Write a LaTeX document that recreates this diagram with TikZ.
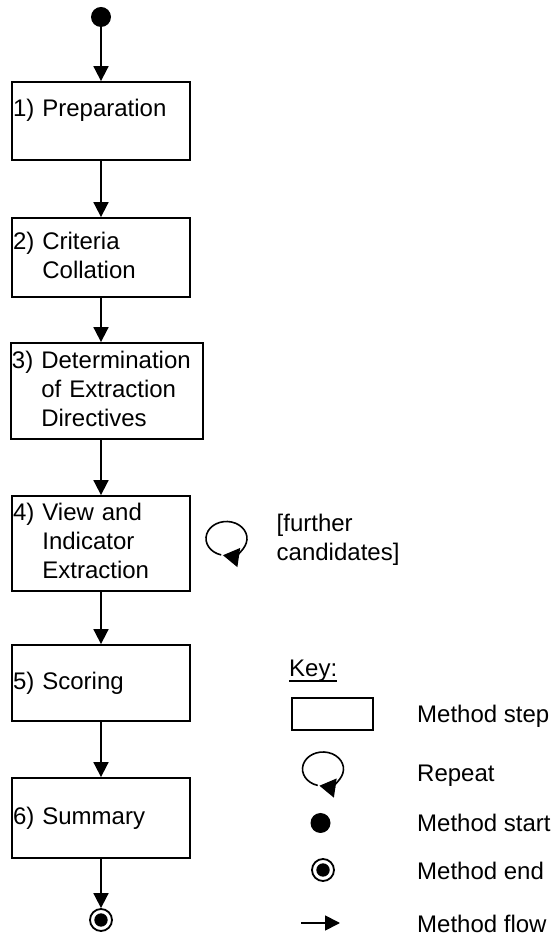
\documentclass[tikz,border=0pt]{standalone}
\usepackage{fontspec}
\setmainfont{Liberation Sans}
\usetikzlibrary{arrows.meta}
\tikzset{>={Triangle[length=15pt,width=15pt]},
         stepbox/.style={draw,line width=1.8pt,minimum width=178pt,text width=176pt,inner xsep=1pt,align=left},
         startdot/.style={circle,fill,minimum size=20pt,inner sep=0pt},
         enddot/.style={circle,draw,line width=1.8pt,minimum size=22pt,inner sep=0pt,
                        path picture={\fill (path picture bounding box.center) circle (6.7pt);}},
         flowline/.style={->,line width=1.8pt},
         keytext/.style={anchor=base west,inner sep=0pt},
         loopsym/.pic={\draw[line width=1.6pt,-{Triangle[length=16pt,width=19pt]}]
                       (255:20.5 and 17) arc[start angle=255,end angle=-100,x radius=20.5,y radius=17];},
        }

\begin{document}
\begin{tikzpicture}[x=1pt,y=1pt,font=\fontsize{24}{29}\selectfont]
        \useasboundingbox (0,0) rectangle (552,937);
        % method steps
        \node[startdot](s0)at(101,920){};
        \node[stepbox,minimum height=78pt,text depth=25.5pt](b1)at(101,816){1) Preparation};
        \node[stepbox,minimum height=79pt](b2)at(101,679.5){2) Criteria\\\phantom{2)~}Collation};
        \node[stepbox,minimum width=192pt,text width=190pt,minimum height=96pt](b3)at(107,546){3) Determination\\\phantom{3)~}of Extraction\\\phantom{3)~}Directives};
        \node[stepbox,minimum height=95pt](b4)at(101,393.5){4) View and\\\phantom{4)~}Indicator\\\phantom{4)~}Extraction};
        \node[stepbox,minimum height=76pt](b5)at(101,254){5) Scoring};
        \node[stepbox,minimum height=80pt](b6)at(101,119){6) Summary};
        \node[enddot](e0)at(101,17){};
        \draw[flowline](s0)--(b1);
        \draw[flowline](b1)--(b2);
        \draw[flowline](b2.south)--(b2.south|-b3.north);
        \draw[flowline](b3.south-|b4.north)--(b4.north);
        \draw[flowline](b4)--(b5);
        \draw[flowline](b5)--(b6);
        \draw[flowline](b6)--(e0);
        % repeat
        \pic at (226.5,398.5) {loopsym};
        \node[anchor=north west,inner sep=0pt,align=left](rep)at(276.5,423.5){[further\\candidates]};
        % key
        \node[keytext](kh)at(289,260){\vtop{\hbox{Key:}\kern-2pt\hrule height 2pt}};
        \node[draw,line width=1.8pt,minimum width=81pt,minimum height=32pt,inner sep=0pt](ks)at(332.5,223){};
        \pic at (323,168) {loopsym};
        \node[startdot](kst)at(320.5,114){};
        \node[enddot](ke)at(323,67){};
        \coordinate(fa)at(301,14);
        \coordinate(fb)at(340,14);
        \draw[flowline](fa)--(fb);
        \node[keytext](k1)at(417,214){Method step};
        \node[keytext](k2)at(417,155){Repeat};
        \node[keytext](k3)at(417,105){Method start};
        \node[keytext](k4)at(417,57){Method end};
        \node[keytext](k5)at(417,5){Method flow};
    \end{tikzpicture}
\end{document}
